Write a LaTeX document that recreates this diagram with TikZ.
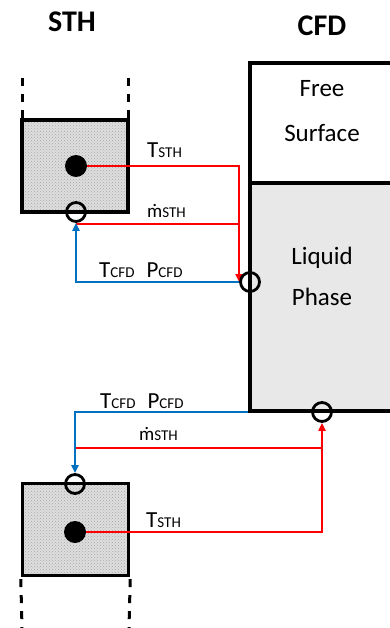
\documentclass[tikz,border=0pt]{standalone}
\usepackage{fontspec}
\setmainfont{Carlito}
\usetikzlibrary{arrows.meta,patterns}
\definecolor{myred}{RGB}{255,0,0}
\definecolor{myblue}{RGB}{0,112,192}
\definecolor{liq}{RGB}{232,232,232}
\definecolor{boxfill}{RGB}{222,222,222}
\pgfdeclarelayer{bg}
\pgfdeclarelayer{lines}
\pgfsetlayers{bg,lines,main}
\newcommand\subtx[1]{{\fontsize{15}{15}\selectfont #1}}
\newcommand\mdot{{\fontsize{19}{19}\selectfont ṁ}}
\begin{document}
\begin{tikzpicture}[x=1pt,y=-1pt,
  redline/.style={draw=myred,line width=2.7pt},
  blueline/.style={draw=myblue,line width=2.7pt},
  tipped/.style={-{Triangle[length=8pt,width=7pt]}},
  port/.style={circle,draw=black,line width=2.8pt,minimum size=19pt,inner sep=0pt},
  dotnode/.style={circle,fill=black,minimum size=22pt,inner sep=0pt},
  sthbox/.style={rectangle,draw=black,line width=3.4pt,preaction={fill=boxfill},
     pattern=crosshatch dots,pattern color=gray!70,minimum width=106pt,minimum height=92pt,inner sep=0pt},
  dashline/.style={draw=black,line width=3pt,dash pattern=on 8pt off 8pt},
  title/.style={font=\fontsize{30}{30}\selectfont\bfseries,inner sep=0pt},
  cfdtext/.style={font=\fontsize{25}{25}\selectfont,inner sep=0pt},
  lbl/.style={font=\fontsize{23}{23}\selectfont,inner sep=0pt,anchor=base west},
  cfdedge/.style={draw=black,line width=3.2pt}
]
\useasboundingbox (0,0) rectangle (390,628);

% titles
\node[title] (tsth) at (72,22) {STH};
\node[title] (tcfd) at (322,26) {CFD};

% STH boxes and dashed walls
\begin{pgfonlayer}{bg}
\fill[white] (0,0) rectangle (390,628);
\node[sthbox] (topbox) at (75,166) {};
\node[sthbox] (botbox) at (75.5,529.5) {};
\fill[liq] (250,183) rectangle (395,411);
\end{pgfonlayer}
\coordinate (tdl) at (22,78);
\coordinate (tdr) at (128,78);
\coordinate (bdl) at (22,628);
\coordinate (bdr) at (129,628);
\draw[dashline] (tdl) -- (tdl |- topbox.north);
\draw[dashline] (tdr) -- (tdr |- topbox.north);
\draw[dashline] (botbox.south west) ++(0,2) -- (bdl);
\draw[dashline] (botbox.south east) ++(0,2) -- (bdr);

% dots and ports
\node[dotnode] (td) at (76,166) {};
\node[port] (tp) at (76,212) {};
\node[port] (c1) at (250,282) {};
\node[port] (c2) at (322,412) {};
\node[port] (bp) at (75,484) {};
\node[dotnode] (bd) at (75,532) {};

% CFD text
\node[cfdtext] (free) at (322,89) {Free};
\node[cfdtext] (surf) at (322,133) {Surface};
\node[cfdtext] (liquid) at (322,258) {Liquid};
\node[cfdtext] (phase) at (322,297) {Phase};

% labels
\node[lbl] (l1) at (147,158) {T\subtx{STH}};
\node[lbl] (l2) at (147,217) {\mdot\subtx{STH}};
\node[lbl] (l3) at (99,277) {T\subtx{CFD}\hspace{12pt}P\subtx{CFD}};
\node[lbl] (l4) at (100,408) {T\subtx{CFD}\hspace{12pt}P\subtx{CFD}};
\node[lbl] (l5) at (139,440) {\mdot\subtx{STH}};
\node[lbl] (l6) at (146,527) {T\subtx{STH}};

% connectors
\coordinate (ta) at (239,166);
\coordinate (tm) at (76,224);
\coordinate (bm) at (75,448);
\begin{pgfonlayer}{lines}
\draw[redline] (tm) -- (tm -| ta);
\draw[redline,tipped] (td.center) -- (ta) -- (ta |- c1);
\draw[blueline,tipped] (c1.west) -| (tp.south);
\draw[redline] (bm) -- (bm -| c2);
\draw[redline,tipped] (bd.center) -| (c2.south);
\draw[blueline,tipped] (c2.west) -| (bp.north);
\end{pgfonlayer}

% CFD domain borders
\draw[cfdedge] (395,63) -- (250,63) -- (250,411) -- (395,411);
\draw[cfdedge] (250,183) -- (395,183);
\end{tikzpicture}
\end{document}
